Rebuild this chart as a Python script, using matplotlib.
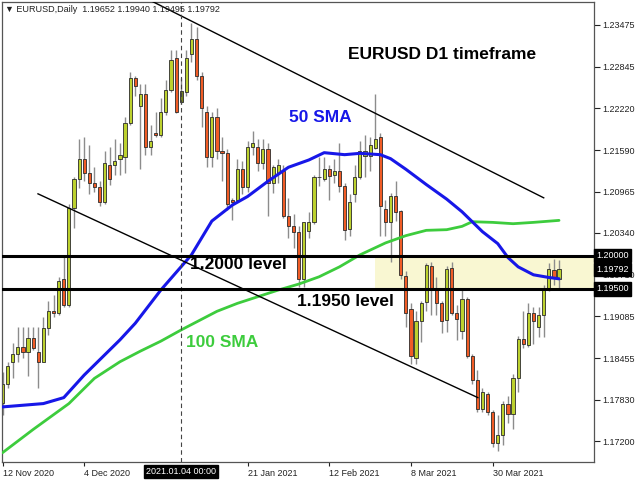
import numpy as np
import matplotlib
matplotlib.use("Agg")
import matplotlib.pyplot as plt
import matplotlib.transforms as mtransforms

plt.rcParams['font.family'] = ['Liberation Sans', 'DejaVu Sans']

# EURUSD daily candles, 12 Nov 2020 .. 16 Apr 2021 (bar index 0..109)
opens = [1.1778, 1.1807, 1.1839, 1.1852, 1.1863, 1.1854, 1.1876, 1.1855, 1.1840, 1.1891,
         1.1917, 1.1914, 1.1964, 1.1926, 1.2071, 1.2115, 1.2146, 1.2125, 1.2110, 1.2104,
         1.2081, 1.2137, 1.2136, 1.2145, 1.2149, 1.2200, 1.2267, 1.2225, 1.2244, 1.2163,
         1.2185, 1.2182, 1.2217, 1.2249, 1.2298, 1.2232, 1.2247, 1.2303, 1.2327, 1.2271,
         1.2216, 1.2149, 1.2208, 1.2157, 1.2155, 1.2084, 1.2084, 1.2130, 1.2104, 1.2164,
         1.2163, 1.2140, 1.2161, 1.2110, 1.2125, 1.2128, 1.2060, 1.2044, 1.2036, 1.1964,
         1.2037, 1.2050, 1.2118, 1.2116, 1.2131, 1.2121, 1.2128, 1.2105, 1.2040, 1.2092,
         1.2119, 1.2150, 1.2150, 1.2162, 1.2179, 1.2070, 1.2050, 1.2090, 1.2067, 1.1969,
         1.1919, 1.1846, 1.1901, 1.1930, 1.1985, 1.1950, 1.1928, 1.1903, 1.1982, 1.1914,
         1.1887, 1.1934, 1.1848, 1.1812, 1.1769, 1.1792, 1.1765, 1.1718, 1.1730, 1.1777,
         1.1762, 1.1815, 1.1874, 1.1866, 1.1913, 1.1893, 1.1910, 1.1949, 1.1979, 1.19652]
highs = [1.1824, 1.1839, 1.1869, 1.1893, 1.1893, 1.1893, 1.1893, 1.1893, 1.1907, 1.1931,
         1.1941, 1.1967, 1.1998, 1.2077, 1.2119, 1.2176, 1.2178, 1.2167, 1.2134, 1.2112,
         1.2158, 1.2164, 1.2175, 1.2170, 1.2208, 1.2276, 1.2271, 1.2258, 1.2258, 1.2196,
         1.2216, 1.2238, 1.2265, 1.2310, 1.2310, 1.2268, 1.2310, 1.2350, 1.2345, 1.2277,
         1.2225, 1.2216, 1.2223, 1.2179, 1.2160, 1.2087, 1.2145, 1.2143, 1.2172, 1.2188,
         1.2176, 1.2175, 1.2170, 1.2137, 1.2145, 1.2137, 1.2087, 1.2062, 1.2044, 1.2051,
         1.2065, 1.2122, 1.2149, 1.2149, 1.2137, 1.2145, 1.2170, 1.2110, 1.2092, 1.2137,
         1.2172, 1.2182, 1.2179, 1.2243, 1.2185, 1.2084, 1.2095, 1.2113, 1.2069, 1.1976,
         1.1929, 1.1916, 1.1931, 1.1989, 1.1990, 1.1968, 1.1931, 1.1984, 1.1991, 1.1925,
         1.1949, 1.1937, 1.1852, 1.1828, 1.1801, 1.1794, 1.1768, 1.1760, 1.1781, 1.1788,
         1.1821, 1.1879, 1.1916, 1.1929, 1.1922, 1.1922, 1.1956, 1.1989, 1.1995, 1.19940]
lows = [1.1760, 1.1801, 1.1815, 1.1839, 1.1846, 1.1818, 1.1858, 1.1801, 1.1839, 1.1881,
        1.1907, 1.1911, 1.1923, 1.1923, 1.2041, 1.2102, 1.2112, 1.2092, 1.2096, 1.2074,
        1.2078, 1.2107, 1.2121, 1.2122, 1.2125, 1.2197, 1.2240, 1.2130, 1.2152, 1.2152,
        1.2178, 1.2179, 1.2212, 1.2246, 1.2215, 1.2228, 1.2240, 1.2292, 1.2265, 1.2193,
        1.2134, 1.2134, 1.2145, 1.2112, 1.2069, 1.2054, 1.2081, 1.2092, 1.2096, 1.2152,
        1.2127, 1.2130, 1.2060, 1.2095, 1.2110, 1.2057, 1.2027, 1.2011, 1.1953, 1.1953,
        1.2026, 1.2047, 1.2105, 1.2112, 1.2083, 1.2110, 1.2096, 1.2024, 1.2030, 1.2081,
        1.2115, 1.2119, 1.2127, 1.2160, 1.2029, 1.2029, 1.1991, 1.2052, 1.1964, 1.1893,
        1.1836, 1.1837, 1.1870, 1.1916, 1.1911, 1.1911, 1.1884, 1.1885, 1.1910, 1.1873,
        1.1875, 1.1846, 1.1806, 1.1765, 1.1765, 1.1760, 1.1712, 1.1705, 1.1714, 1.1748,
        1.1738, 1.1795, 1.1861, 1.1863, 1.1867, 1.1878, 1.1878, 1.1946, 1.1955, 1.19495]
closes = [1.1806, 1.1834, 1.1852, 1.1863, 1.1854, 1.1876, 1.1861, 1.1840, 1.1891, 1.1916,
          1.1914, 1.1961, 1.1926, 1.2071, 1.2115, 1.2146, 1.2125, 1.2110, 1.2104, 1.2081,
          1.2140, 1.2115, 1.2143, 1.2152, 1.2200, 1.2267, 1.2255, 1.2244, 1.2163, 1.2172,
          1.2181, 1.2217, 1.2249, 1.2295, 1.2217, 1.2248, 1.2297, 1.2327, 1.2271, 1.2223,
          1.2149, 1.2208, 1.2157, 1.2154, 1.2077, 1.2080, 1.2130, 1.2104, 1.2164, 1.2170,
          1.2140, 1.2161, 1.2110, 1.2134, 1.2136, 1.2060, 1.2044, 1.2035, 1.1964, 1.2050,
          1.2050, 1.2118, 1.2119, 1.2131, 1.2120, 1.2128, 1.2105, 1.2039, 1.2080, 1.2119,
          1.2157, 1.2158, 1.2167, 1.2175, 1.2074, 1.2050, 1.2090, 1.2065, 1.1970, 1.1914,
          1.1848, 1.1901, 1.1929, 1.1986, 1.1949, 1.1928, 1.1901, 1.1980, 1.1914, 1.1905,
          1.1934, 1.1848, 1.1812, 1.1769, 1.1794, 1.1765, 1.1718, 1.1730, 1.1777, 1.1762,
          1.1815, 1.1875, 1.1867, 1.1914, 1.1901, 1.1911, 1.1949, 1.1980, 1.1967, 1.19792]

# moving averages (bar index, price)
sma50_idx = [0, 8, 12, 16, 23, 26, 31, 37, 41, 45, 48, 52, 56, 60, 63, 67, 70, 74, 76, 79,
             83, 87, 90, 94, 97, 99, 101, 104, 107, 109]
sma50 = [1.1772, 1.1777, 1.1786, 1.1820, 1.1873, 1.1898, 1.1948, 1.2001, 1.2052, 1.2076,
         1.2089, 1.2112, 1.2133, 1.2144, 1.2155, 1.2152, 1.2154, 1.2152, 1.2146, 1.2130,
         1.2107, 1.2085, 1.2066, 1.2036, 1.2018, 1.1997, 1.1983, 1.1971, 1.1967, 1.1965]
sma100_idx = [0, 6, 13, 18, 23, 27, 31, 35, 39, 42, 46, 50, 54, 58, 62, 66, 70, 75, 79, 83,
              87, 90, 92, 96, 100, 104, 109]
sma100 = [1.1703, 1.1738, 1.1777, 1.1815, 1.1840, 1.1856, 1.1871, 1.1888, 1.1904, 1.1916,
          1.1928, 1.1938, 1.1948, 1.1957, 1.1968, 1.1983, 1.2001, 1.2019, 1.2030, 1.2038,
          1.2039, 1.2044, 1.2051, 1.2050, 1.2048, 1.2050, 1.2053]

# trend lines (bar index, price)
upper_trend_x = [29.3, 106.0]
upper_trend_y = [1.2383, 1.2087]
lower_trend_x = [6.95, 93.1]
lower_trend_y = [1.2093, 1.1786]

levels = [1.2000, 1.1950]
zone_start = 73
selected_bar = 35
last_price = 1.19792

price_ticks = [1.23475, 1.22845, 1.22220, 1.21590, 1.20965, 1.20340, 1.19710,
               1.19085, 1.18455, 1.17830, 1.17200]
date_ticks = [0, 16, 48, 64, 80, 96]
date_labels = ['12 Nov 2020', '4 Dec 2020', '21 Jan 2021', '12 Feb 2021',
               '8 Mar 2021', '30 Mar 2021']

GREEN = '#bcd12e'
RED = '#f05c26'
WICK = '#8c8c8c'

fig = plt.figure(figsize=(6.4, 4.8), dpi=100)
ax = fig.add_axes([2 / 640, 18 / 480, 592 / 640, 460 / 480])
ax.set_xlim(-0.1, 115.85)
ax.set_ylim(1.1689, 1.2382)

o = np.array(opens)
h = np.array(highs)
l = np.array(lows)
c = np.array(closes)
idx = np.arange(len(o))

# support/resistance zone
ax.axhspan(levels[1], levels[0], xmin=(zone_start - ax.get_xlim()[0]) / (ax.get_xlim()[1] - ax.get_xlim()[0]),
           xmax=1, color='#f9f7d2', zorder=0.5, lw=0)

# candles
ax.vlines(idx, l, h, color=WICK, lw=1, zorder=1)
colors = [GREEN if cc >= oo else RED for oo, cc in zip(o, c)]
colors[selected_bar] = '#77841f'
body_h = np.maximum(np.abs(c - o), 0.00008)
ax.bar(idx, body_h, bottom=np.minimum(o, c), width=0.62, color=colors,
       edgecolor='#2b2b2b', linewidth=0.6, zorder=2)

# moving averages
ax.plot(sma100_idx, sma100, color='#3dcc3d', lw=2.0, zorder=3, solid_capstyle='round')
ax.plot(sma50_idx, sma50, color='#1717e8', lw=2.2, zorder=3, solid_capstyle='round')

# trend lines and levels
ax.plot(upper_trend_x, upper_trend_y, color='black', lw=1.0, zorder=3)
ax.plot(lower_trend_x, lower_trend_y, color='black', lw=1.0, zorder=3)
for lv in levels:
    ax.axhline(lv, color='black', lw=2.2, zorder=4)
ax.axvline(selected_bar, color='#444444', lw=0.8, ls=(0, (4, 3)), zorder=3)

# annotations
bold = dict(fontweight='bold', fontsize=12.5, ha='center', va='center', zorder=5)
ax.text(86.1, 1.2303, 'EURUSD D1 timeframe', color='black', **bold)
ax.text(62.2, 1.2208, '50 SMA', color='#1717e8', **bold)
ax.text(43.0, 1.1869, '100 SMA', color='#3dcc3d', **bold)
ax.text(46.1, 1.1986, '1.2000 level', color='black', **bold)
ax.text(67.1, 1.1931, '1.1950 level', color='black', **bold)

# axes styling (MT4-like)
for sp in ax.spines.values():
    sp.set_color('#555555')
    sp.set_linewidth(0.9)
ax.yaxis.tick_right()
ax.set_yticks(price_ticks)
ax.set_yticklabels(['%.5f' % p for p in price_ticks])
ax.tick_params(axis='y', direction='out', length=4, width=0.8, pad=2, labelsize=6.5, colors='#222222')
ax.set_xticks(date_ticks)
ax.set_xticklabels(date_labels)
ax.tick_params(axis='x', direction='out', length=3, width=0.8, pad=2, labelsize=6.5, colors='#222222')
for lab in ax.get_xticklabels():
    lab.set_ha('left')

# boxed price labels on the right scale
ytrans = mtransforms.blended_transform_factory(ax.transAxes, ax.transData)
for val in [levels[0], last_price, levels[1]]:
    ax.text(1.004, val, '%.5f' % val, transform=ytrans, color='white', fontsize=6.5,
            ha='left', va='center', clip_on=False, zorder=6,
            bbox=dict(boxstyle='square,pad=0.25', fc='black', ec='black'))

# boxed date label of the vertical line
xtrans = mtransforms.blended_transform_factory(ax.transData, ax.transAxes)
ax.text(selected_bar, -0.021, '2021.01.04 00:00', transform=xtrans, color='white', fontsize=6.5,
        ha='center', va='center', clip_on=False, zorder=6,
        bbox=dict(boxstyle='square,pad=0.25', fc='black', ec='black'))

fig.text(5 / 640, 1 - 9 / 480, '\u25bc EURUSD,Daily  1.19652 1.19940 1.19495 1.19792',
         fontsize=6.5, color='#222222', ha='left', va='center')

fig.savefig('out.png', dpi=100)
